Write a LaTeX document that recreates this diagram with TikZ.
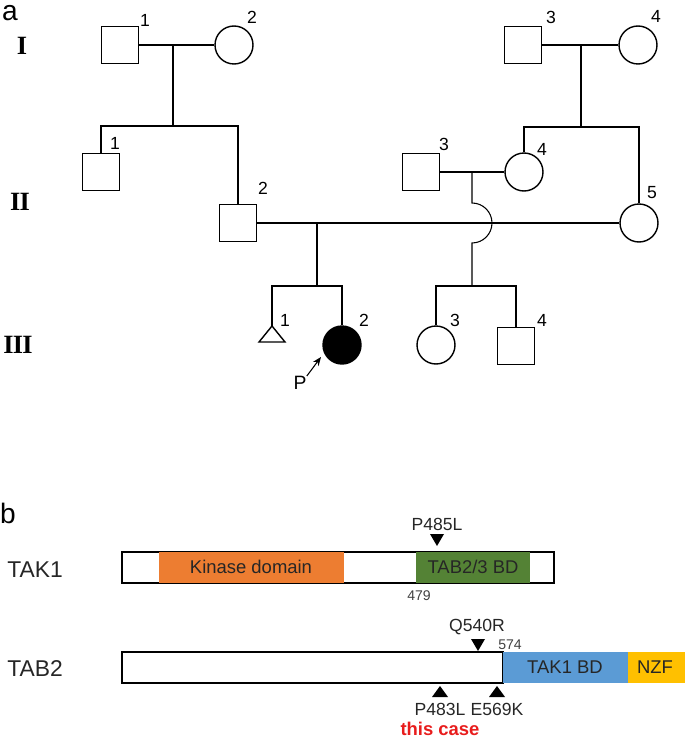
\documentclass[tikz,border=0pt]{standalone}
\usepackage{fontspec}
\setmainfont{Liberation Sans}
\newfontfamily\genfont{Liberation Serif}
\usepackage{tikz}
\usetikzlibrary{arrows.meta}
\definecolor{kinaseorange}{HTML}{ED7D31}
\definecolor{bdgreen}{HTML}{548235}
\definecolor{bdblue}{HTML}{5B9BD5}
\definecolor{nzfyellow}{HTML}{FFC000}
\definecolor{domtext}{HTML}{262626}
\definecolor{casered}{HTML}{E81C1C}

\tikzset{
  male/.style={draw, line width=0.8pt, minimum size=0.74cm, inner sep=0pt},
  female/.style={draw, circle, line width=0.8pt, minimum size=0.76cm, inner sep=0pt},
  affected/.style={female, fill=black},
  link/.style={line width=0.6pt},
  pnum/.style={font=\fontsize{10}{12}\selectfont, inner sep=0pt},
  gen/.style={font=\genfont\bfseries\fontsize{15}{16}\selectfont, inner sep=0pt},
  panel/.style={font=\fontsize{16}{18}\selectfont, inner sep=0pt},
  prot/.style={font=\fontsize{13}{15}\selectfont, text=domtext, inner sep=0pt},
  dtext/.style={font=\fontsize{10.5}{12}\selectfont, text=domtext, inner sep=0pt},
  mut/.style={font=\fontsize{10}{12}\selectfont, text=domtext, inner sep=0pt},
  resnum/.style={font=\fontsize{8}{9}\selectfont, text=black!75, inner sep=0pt},
}

\begin{document}
\begin{tikzpicture}[x=0.02cm, y=-0.02cm]
    \useasboundingbox (0,0) rectangle (685,740);
    \pgfmathsetmacro{\hop}{20}
    % pedigree
    \node[panel] (lbla) at (10,13) {a};
    \node[gen] (genI) at (22,46) {I};
    \node[gen] (genII) at (20,202) {I\kern-0.5ptI};
    \node[gen] (genIII) at (18,345) {I\kern-0.5ptI\kern-0.5ptI};
    \node[male] (I1) at (120,45) {};
    \node[female] (I2) at (234,45) {};
    \node[male] (I3) at (523,45) {};
    \node[female] (I4) at (638,45) {};
    \node[male] (II1) at (101,172) {};
    \node[male] (II2) at (238,223) {};
    \node[male] (II3) at (421,172) {};
    \node[female] (II4) at (524,172) {};
    \node[female] (II5) at (639,223) {};
    \coordinate (III1) at (272,326);
    \node[affected] (III2) at (342,345) {};
    \node[female] (III3) at (436,345) {};
    \node[male] (III4) at (516,346) {};
    \draw[line width=0.8pt] (III1) -- ++(-13,16) -- ++(26,0) -- cycle;
    \foreach \nm/\x/\y/\t in {I1/145/20/1, I2/252/17/2, I3/551/17/3, I4/656/16/4,
      II1/115/143/1, II2/263/188/2, II3/444/144/3, II4/542/149/4, II5/652/193/5,
      III1/285/320/1, III2/364/320/2, III3/455/320/3, III4/542/320/4}
      \node[pnum] (n\nm) at (\x,\y) {\t};
    \coordinate (m1) at (173,45);
    \coordinate (s1) at (173,126);
    \coordinate (m2) at (581,45);
    \coordinate (s2) at (581,127);
    \coordinate (m3) at (472,172);
    \coordinate (s3) at (472,286);
    \coordinate (m4) at (317,223);
    \coordinate (s4) at (317,286);
    \draw[link] (I1) -- (I2);
    \draw[link] (I3) -- (I4);
    \draw[link] (II3) -- (II4);
    \draw[link] (II2) -- (II5);
    \draw[link] (m1) -- (s1);
    \draw[link] (m2) -- (s2);
    \draw[link] (m4) -- (s4);
    \draw[link] (m3) -- ++(0,223-\hop-172) arc[start angle=90, end angle=-90, radius=0.4cm] -- (s3);
    \draw[link] (II1.north) |- (s1) -| (II2.north);
    \draw[link] (II4.north) |- (s2) -| (II5.north);
    \draw[link] (III1) |- (s4) -| (III2.north);
    \draw[link] (III3.north) |- (s3) -| (III4.north);
    \node[font=\fontsize{11}{12}\selectfont, inner sep=0pt] (P) at (300,383) {P};
    \coordinate (ptip) at (321,357);
    \draw[link, -{Stealth[length=5pt, width=4pt]}] (P.north east) -- (ptip);
    % proteins
    \node[panel] (lblb) at (8,513) {b};
    \node[prot] (TAK1) at (35,570) {TAK1};
    \node[prot] (TAB2) at (35,669) {TAB2};
    \draw[line width=0.8pt] (122,552) rectangle (554,583);
    \fill[kinaseorange] (159,552) rectangle (344,583);
    \fill[bdgreen] (416,552) rectangle (530,583);
    \draw[line width=0.8pt] (122,652) rectangle (503,683);
    \fill[bdblue] (503,652) rectangle (628,683);
    \fill[nzfyellow] (628,652) rectangle (685,683);
    \node[dtext] (kin) at (251,567) {Kinase domain};
    \node[dtext] (tabbd) at (473,567) {TAB2/3 BD};
    \node[dtext] (takbd) at (565,667) {TAK1 BD};
    \node[dtext] (nzf) at (655,667) {NZF};
    \node[resnum] (p479) at (419,596) {479};
    \node[resnum] (p574) at (510,645) {574};
    \foreach \nm/\x/\y in {P485L/437/546, Q540R/478/651}
      \fill (\x,\y) coordinate (t\nm) -- ++(-7,-12) -- ++(14,0) -- cycle;
    \foreach \nm/\x/\y in {P483L/440/686, E569K/497/686}
      \fill (\x,\y) coordinate (t\nm) -- ++(-8,11) -- ++(16,0) -- cycle;
    \node[mut] (lP483L) at (440,709) {P483L};
    \node[mut] (lE569K) at (497,709) {E569K};
    \node[mut] (lP485L) at (437,524) {P485L};
    \node[mut] (lQ540R) at (477,627) {Q540R};
    \node[font=\bfseries\fontsize{10.5}{12}\selectfont, text=casered, inner sep=0pt] (this) at (440,729) {this case};
\end{tikzpicture}
\end{document}
